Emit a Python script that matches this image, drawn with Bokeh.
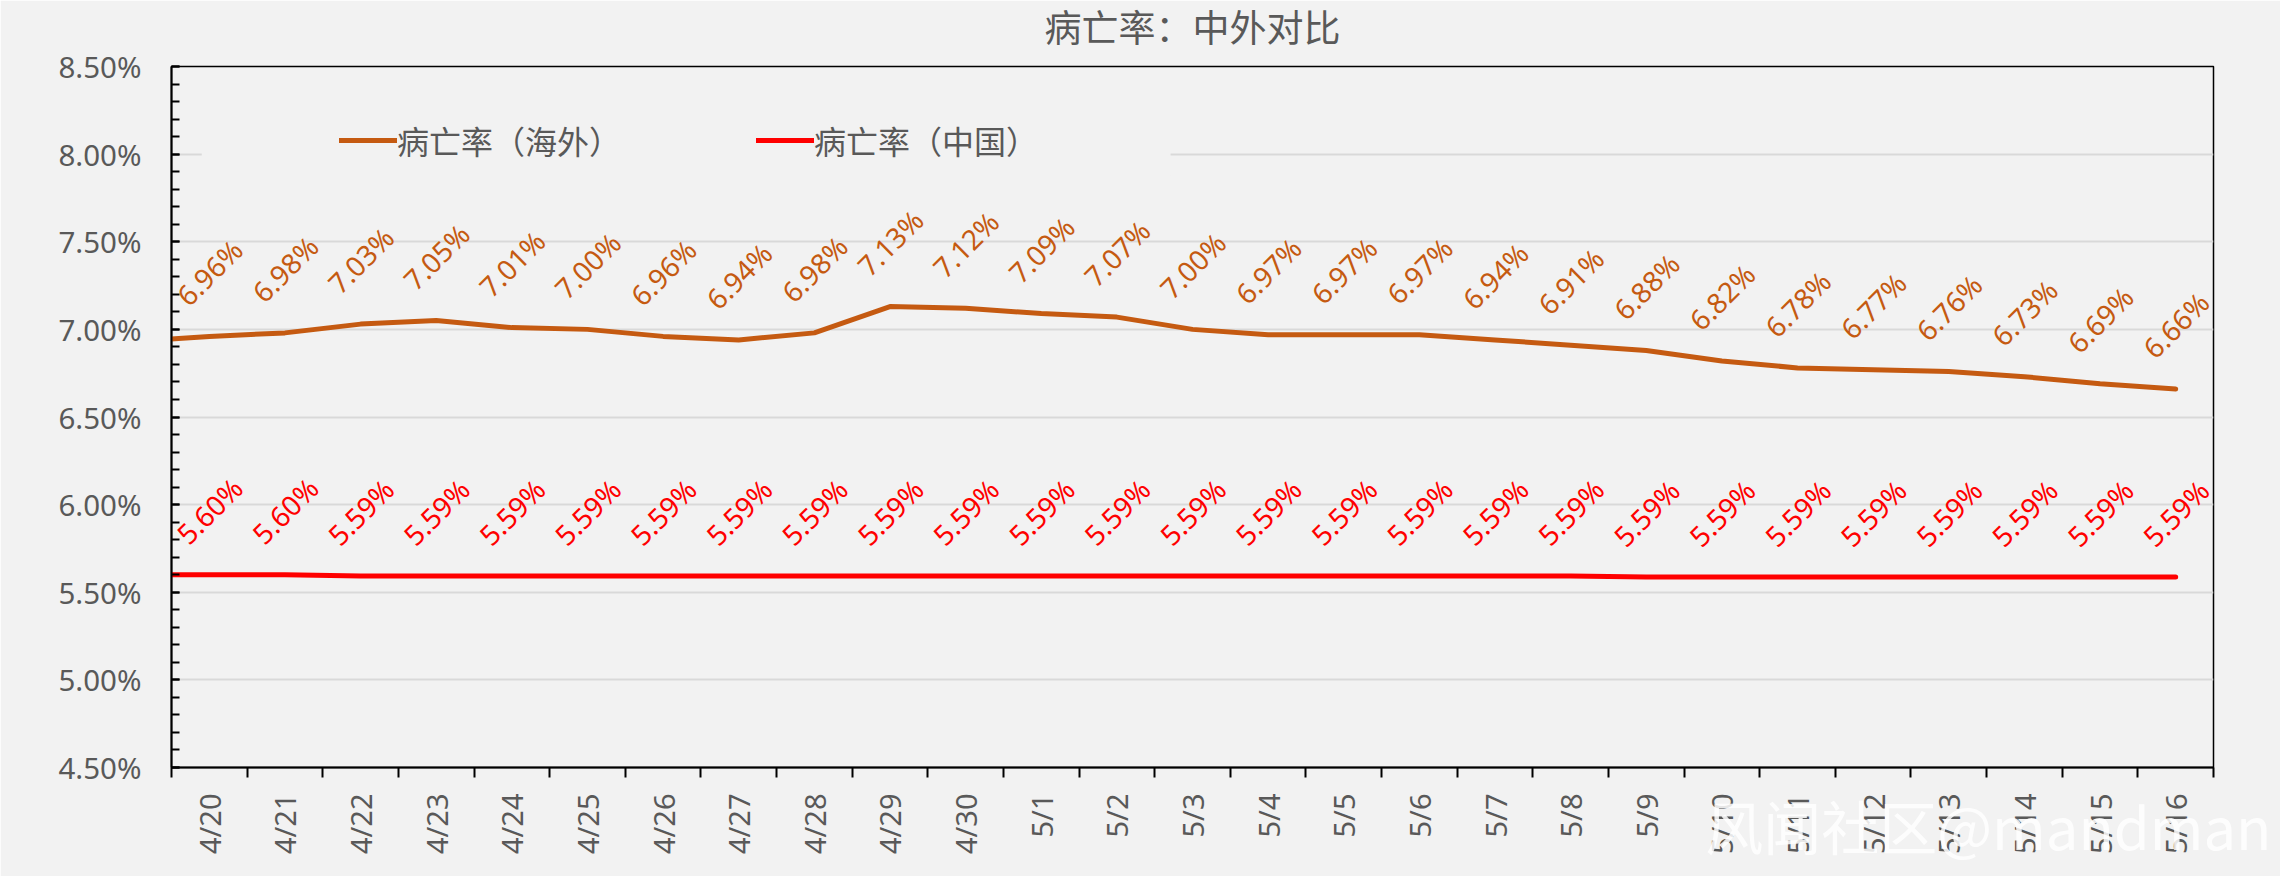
import math
from bokeh.plotting import figure
from bokeh.models import (Range1d, FixedTicker, PrintfTickFormatter, Legend, LegendItem,
                          ColumnDataSource, BoxAnnotation, Title)
from bokeh.embed import file_html
from bokeh.resources import INLINE
from bokeh.core.properties import value

# ---------------- data ----------------
title_text = "病亡率：中外对比"
series_overseas_name = "病亡率（海外）"
series_china_name = "病亡率（中国）"

dates = ["4/20", "4/21", "4/22", "4/23", "4/24", "4/25", "4/26", "4/27", "4/28", "4/29", "4/30",
         "5/1", "5/2", "5/3", "5/4", "5/5", "5/6", "5/7", "5/8", "5/9", "5/10", "5/11",
         "5/12", "5/13", "5/14", "5/15", "5/16"]

overseas = [6.96, 6.98, 7.03, 7.05, 7.01, 7.00, 6.96, 6.94, 6.98, 7.13, 7.12, 7.09, 7.07, 7.00,
            6.97, 6.97, 6.97, 6.94, 6.91, 6.88, 6.82, 6.78, 6.77, 6.76, 6.73, 6.69, 6.66]

china = [5.600, 5.600, 5.593, 5.593, 5.593, 5.593, 5.593, 5.593, 5.593, 5.593, 5.593,
         5.593, 5.593, 5.593, 5.593, 5.593, 5.593, 5.593, 5.593, 5.587, 5.587, 5.587,
         5.587, 5.587, 5.587, 5.587, 5.587]

# value of the day before the first shown date (line runs in from the left edge)
overseas_prev = 6.93
china_prev = 5.600

y_major = [4.5, 5.0, 5.5, 6.0, 6.5, 7.0, 7.5, 8.0, 8.5]

watermark = "风闻社区@mandman"

# ---------------- styles ----------------
BG = "#f2f2f2"
GRAY = "#595959"
ORANGE = "#c55a11"
RED = "#ff0000"
NUM_FONT = "Noto Sans"
CJK_FONT = "Noto Sans CJK SC"

n = len(dates)
idx = list(range(n))

p = figure(width=2280, height=876, output_backend="svg", toolbar_location=None,
           x_range=Range1d(-0.5, n - 0.5), y_range=Range1d(4.5, 8.5),
           min_border_left=171, min_border_right=67, min_border_top=66, min_border_bottom=109,
           background_fill_color=BG, border_fill_color=BG)

# chart title (a trailing empty line with tight line height lifts it to the top edge)
p.title.text = title_text + "\n"
p.title.align = "center"
p.title.vertical_align = "top"
p.title.text_font = CJK_FONT
p.title.text_font_size = "37px"
p.title.text_font_style = "normal"
p.title.text_color = GRAY
p.title.standoff = -10
try:
    p.title.text_line_height = 0.309
except Exception:
    pass

p.outline_line_color = "black"
p.outline_line_width = 1.5

# x axis: labels at category centres, ticks between categories
xa = p.xaxis[0]
xa.ticker = FixedTicker(ticks=idx, minor_ticks=[i - 0.5 for i in range(n + 1)])
xa.major_label_overrides = {i: d for i, d in enumerate(dates)}
xa.major_label_orientation = math.pi / 2
xa.major_tick_in = 0
xa.major_tick_out = 0
xa.minor_tick_in = 0
xa.minor_tick_out = 10
xa.minor_tick_line_color = "black"
xa.minor_tick_line_width = 2
xa.axis_line_color = "black"
xa.axis_line_width = 2
xa.major_label_text_font = NUM_FONT
xa.major_label_text_font_size = "29px"
xa.major_label_text_color = GRAY
xa.major_label_standoff = 16

ya = p.yaxis[0]
ya.ticker = FixedTicker(ticks=y_major, minor_ticks=[4.5 + 0.1 * i for i in range(41)])
ya.formatter = PrintfTickFormatter(format="%.2f%%")
ya.major_tick_in = 8
ya.major_tick_out = 0
ya.minor_tick_in = 8
ya.minor_tick_out = 0
ya.major_tick_line_color = "black"
ya.major_tick_line_width = 2
ya.minor_tick_line_color = "black"
ya.minor_tick_line_width = 2
ya.axis_line_color = "black"
ya.axis_line_width = 2
ya.major_label_text_font = NUM_FONT
ya.major_label_text_font_size = "29.5px"
ya.major_label_text_color = GRAY
ya.major_label_standoff = 30

p.xgrid.visible = False
p.ygrid.grid_line_color = "#d9d9d9"
p.ygrid.grid_line_width = 2

# watermark over the date labels (bottom right)
wm = Title(text=watermark + "\n", align="right", vertical_align="top", offset=-58, standoff=-149,
           text_font=CJK_FONT, text_font_size="58px", text_font_style="normal",
           text_color="white", text_alpha=0.85)
try:
    wm.text_line_height = 0.9
except Exception:
    pass
p.add_layout(wm, "below")

# legend background patch (hides the gridline behind the legend like the original)
p.add_layout(BoxAnnotation(left=-0.10, right=12.71, bottom=7.88, top=8.22,
                           fill_color=BG, fill_alpha=1.0, line_color=None))

xs = [-1] + idx
r1 = p.line(xs, [overseas_prev] + overseas, line_color=ORANGE, line_width=5,
            line_join="round", line_cap="round")
r2 = p.line(xs, [china_prev] + china, line_color=RED, line_width=5,
            line_join="round", line_cap="round")

src_o = ColumnDataSource(dict(x=idx, y=overseas, t=[f"{v:.2f}%" for v in overseas]))
src_c = ColumnDataSource(dict(x=idx, y=china, t=[f"{v:.2f}%" for v in china]))
for src, col in ((src_o, ORANGE), (src_c, RED)):
    p.text(x="x", y="y", text="t", source=src, angle=math.pi / 4,
           text_align="center", text_baseline="middle", y_offset=-64,
           text_color=col, text_font=value(NUM_FONT), text_font_size="28px")

legend = Legend(items=[LegendItem(label=series_overseas_name, renderers=[r1]),
                       LegendItem(label=series_china_name, renderers=[r2])],
                orientation="horizontal", location=(168, 604),
                glyph_width=58, glyph_height=20, label_standoff=0, spacing=135,
                padding=6, margin=0, background_fill_alpha=0, border_line_color=None,
                label_text_font=CJK_FONT, label_text_font_size="32px",
                label_text_color=GRAY)
p.add_layout(legend)

open("out.html", "w").write(file_html(p, INLINE))
